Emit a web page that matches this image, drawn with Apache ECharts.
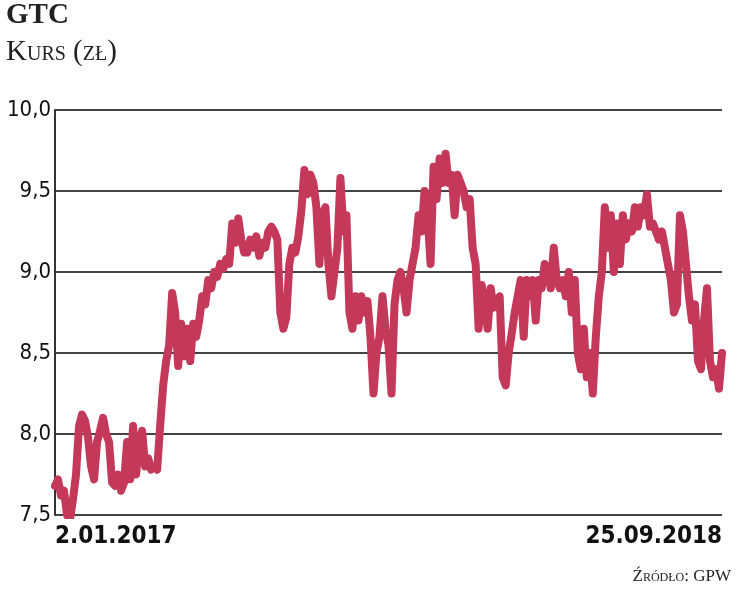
<!DOCTYPE html>
<html>
<head>
<meta charset="utf-8">
<script src="https://cdn.jsdelivr.net/npm/echarts@6/dist/echarts.min.js"></script>
<style>
  html, body { margin: 0; padding: 0; background: #fff; }
  #chart { width: 745px; height: 593px; }
</style>
</head>
<body>
<div id="chart"></div>
<script>
// kurs GTC, odczyt z wykresu (ok. 3 sesje na punkt)
var startDate = '2.01.2017';
var endDate = '25.09.2018';
var prices = [
  7.68, 7.72, 7.62, 7.65, 7.50, 7.47, 7.60, 7.75, 8.05, 8.12, 8.08, 7.98, 7.80, 7.72, 7.95, 8.02, 8.10, 8.00, 7.95, 7.70,
  7.68, 7.75, 7.65, 7.70, 7.95, 7.72, 8.05, 7.75, 7.95, 8.02, 7.80, 7.85, 7.78, 7.80, 7.78, 8.05, 8.30, 8.45, 8.55, 8.87,
  8.75, 8.42, 8.68, 8.48, 8.65, 8.45, 8.68, 8.60, 8.70, 8.85, 8.80, 8.95, 8.90, 9.00, 8.97, 9.05, 9.02, 9.08, 9.05, 9.30,
  9.18, 9.33, 9.20, 9.12, 9.12, 9.20, 9.15, 9.22, 9.10, 9.18, 9.15, 9.25, 9.28, 9.25, 9.20, 8.75, 8.65, 8.72, 9.05, 9.15,
  9.12, 9.22, 9.38, 9.63, 9.48, 9.60, 9.55, 9.40, 9.05, 9.35, 9.40, 9.05, 8.85, 9.00, 9.15, 9.58, 9.25, 9.35, 8.75, 8.65,
  8.85, 8.70, 8.85, 8.75, 8.82, 8.60, 8.25, 8.50, 8.60, 8.85, 8.65, 8.55, 8.25, 8.80, 8.95, 9.00, 8.90, 8.75, 8.95, 9.05,
  9.15, 9.35, 9.25, 9.50, 9.35, 9.05, 9.65, 9.45, 9.70, 9.55, 9.73, 9.55, 9.60, 9.35, 9.60, 9.55, 9.50, 9.40, 9.45, 9.15,
  9.05, 8.65, 8.92, 8.80, 8.65, 8.90, 8.78, 8.80, 8.85, 8.35, 8.30, 8.50, 8.62, 8.75, 8.85, 8.95, 8.60, 8.95, 8.85, 8.95,
  8.70, 8.95, 8.90, 9.05, 9.00, 8.90, 9.15, 8.95, 8.90, 8.95, 8.85, 9.00, 8.75, 8.95, 8.50, 8.40, 8.65, 8.35, 8.50, 8.25,
  8.60, 8.85, 9.00, 9.40, 9.15, 9.35, 9.00, 9.30, 9.05, 9.35, 9.20, 9.30, 9.25, 9.40, 9.28, 9.40, 9.35, 9.48, 9.28, 9.30,
  9.25, 9.20, 9.25, 9.15, 9.05, 8.95, 8.75, 8.80, 9.35, 9.25, 9.05, 8.85, 8.70, 8.80, 8.45, 8.40, 8.70, 8.90, 8.45, 8.35,
  8.40, 8.28, 8.50
];
var yTicks = [7.5, 8.0, 8.5, 9.0, 9.5, 10.0];

var labels = prices.map(function (v, i) {
  if (i === 0) return startDate;
  if (i === prices.length - 1) return endDate;
  return '';
});

var chart = echarts.init(document.getElementById('chart'));
chart.setOption({
  animation: false,
  backgroundColor: '#fff',
  grid: { left: 55, right: 23, top: 110, bottom: 78 },
  graphic: [
    { type: 'text', left: 6, top: 1, style: { text: 'GTC', font: 'bold 29px "Liberation Serif", serif', fill: '#222' } },
    { type: 'text', left: 6, top: 38, style: { text: 'Kurs (zł)', font: 'small-caps 29px "Liberation Serif", serif', fill: '#222' } },
    { type: 'text', right: 14, top: 568, style: { text: 'Źródło: GPW', font: 'small-caps 17px "Liberation Serif", serif', fill: '#222' } }
  ],
  xAxis: {
    type: 'category',
    data: labels,
    boundaryGap: false,
    axisLine: { show: false },
    axisTick: { show: false },
    axisLabel: {
      interval: 0,
      margin: 10,
      alignMinLabel: 'left',
      alignMaxLabel: 'right',
      color: '#111',
      fontSize: 24,
      fontWeight: 'bold',
      fontFamily: '"Liberation Sans Narrow", "DejaVu Sans Condensed", sans-serif'
    }
  },
  yAxis: {
    type: 'value',
    min: 7.5,
    max: 10,
    interval: 0.5,
    axisLine: { show: true, lineStyle: { color: '#333', width: 2 } },
    axisTick: { show: false },
    splitLine: { lineStyle: { color: '#444', width: 2 } },
    axisLabel: {
      margin: 4,
      color: '#111',
      fontSize: 22,
      fontFamily: '"Liberation Sans Narrow", "DejaVu Sans Condensed", sans-serif',
      formatter: function (v) { return yTicks.indexOf(v) >= 0 ? v.toFixed(1).replace('.', ',') : ''; }
    }
  },
  series: [{
    type: 'line',
    data: prices,
    showSymbol: false,
    lineStyle: { color: '#c4385a', width: 8, join: 'round', cap: 'round' }
  }]
});
</script>
</body>
</html>
